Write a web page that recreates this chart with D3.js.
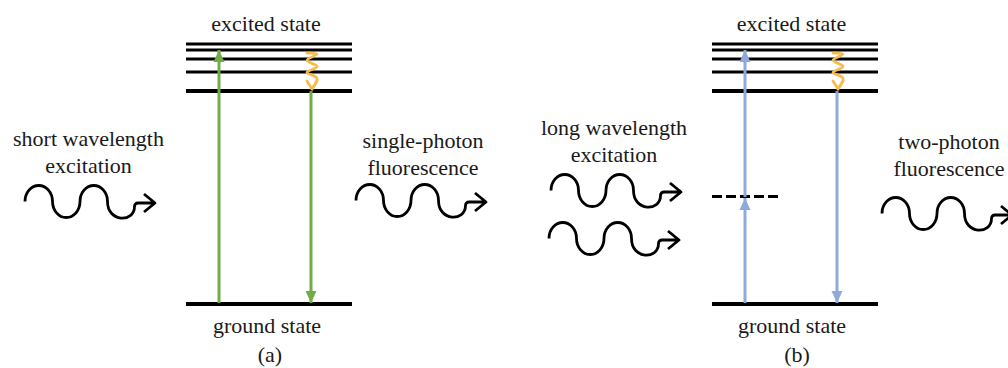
<!DOCTYPE html>
<html><head><meta charset="utf-8">
<script src="https://cdn.jsdelivr.net/npm/d3@7/dist/d3.min.js"></script>
</head><body style="margin:0">
<svg id="chart" width="1008" height="368"></svg>
<script>
// ---- data (energies in arbitrary units, 0 = ground, 1 = top excited level) ----
const panels = ["(a)", "(b)"];
const excitedLevels = [1.0, 0.977, 0.942, 0.892, 0.819];
const groundLevel = [0];
const virtualLevel = [0.408];
const stateLabels = ["excited state", "ground state"];
const photonLabels = [
  ["short wavelength", "excitation"],
  ["single-photon", "fluorescence"],
  ["long wavelength", "excitation"],
  ["two-photon", "fluorescence"]
];
// transitions: [panel, from energy, to energy, kind]
const transitions = [
  ["(a)", 0, 0.977, "abs"],
  ["(a)", 0.819, 0, "emit"],
  ["(b)", 0, 0.408, "abs"],
  ["(b)", 0.408, 0.977, "abs"],
  ["(b)", 0.819, 0, "emit"]
];
// relaxation squiggles: [panel, from energy, to energy]
const relaxations = [
  ["(a)", 0.965, 0.827],
  ["(b)", 0.965, 0.827]
];
const fontNames = ["Liberation Serif"];

// ---- layout ----
const svg = d3.select("#chart");
svg.style("display", "block").style("background", "#fff");
const y = d3.scaleLinear().domain([0, 1]).range([304, 44]);
const panelX = d3.scaleOrdinal().domain(panels).range([186, 712]);
const panelW = 166;
const absX = 33, emitX = 125;
const colors = { "(a)": "#70ad47", "(b)": "#8eaadb" };
const squiggleColor = "#f5bd4f";

const defs = svg.append("defs");
panels.forEach((p, i) => {
  defs.append("marker")
    .attr("id", "head" + i)
    .attr("viewBox", "0 0 12 12")
    .attr("refX", 12).attr("refY", 6)
    .attr("markerWidth", 12).attr("markerHeight", 12)
    .attr("markerUnits", "userSpaceOnUse")
    .attr("orient", "auto")
    .append("path")
    .attr("d", "M0,0.5 L12,6 L0,11.5 Z")
    .attr("fill", colors[p]);
});

const labels = []; // [text, x, baseline]

panels.forEach((p, i) => {
  const g = svg.append("g");
  const x0 = panelX(p);
  g.selectAll("line.ex").data(excitedLevels).join("line")
    .attr("x1", x0).attr("x2", x0 + panelW)
    .attr("y1", d => y(d)).attr("y2", d => y(d))
    .attr("stroke", "#000")
    .attr("stroke-width", (d, j) => j === excitedLevels.length - 1 ? 4 : 3);
  g.selectAll("line.gr").data(groundLevel).join("line")
    .attr("x1", x0).attr("x2", x0 + panelW)
    .attr("y1", d => y(d)).attr("y2", d => y(d))
    .attr("stroke", "#000").attr("stroke-width", 4);
  if (p === "(b)") {
    g.selectAll("line.vr").data(virtualLevel).join("line")
      .attr("x1", x0).attr("x2", x0 + 67)
      .attr("y1", d => y(d) - 1.5).attr("y2", d => y(d) - 1.5)
      .attr("stroke", "#000").attr("stroke-width", 3)
      .attr("stroke-dasharray", "10,4");
  }
  g.selectAll("line.tr").data(transitions.filter(t => t[0] === p)).join("line")
    .attr("x1", d => x0 + (d[3] === "abs" ? absX : emitX))
    .attr("x2", d => x0 + (d[3] === "abs" ? absX : emitX))
    .attr("y1", d => y(d[1]) + (d[1] > d[2] ? 0 : -1))
    .attr("y2", d => y(d[2]) + (d[1] > d[2] ? -1 : 0))
    .attr("stroke", colors[p]).attr("stroke-width", 3)
    .attr("marker-end", "url(#head" + i + ")");
  relaxations.filter(r => r[0] === p).forEach(r => {
    const top = y(r[1]), bot = y(r[2]);
    const h = bot - top;
    const sx = x0 + emitX + 1;
    const pts = [[-5, 0], [5, 1], [-5, 0.2 * h], [5, 0.37 * h], [-5, 0.54 * h], [5, 0.7 * h], [0, h]];
    g.append("path")
      .attr("d", d3.line().curve(d3.curveCatmullRom)(pts.map(q => [sx + q[0], top + q[1]])))
      .attr("fill", "none").attr("stroke", squiggleColor).attr("stroke-width", 2.8)
      .attr("stroke-linecap", "round");
    g.append("path")
      .attr("d", `M${sx - 5},${top + h - 8} L${sx},${top + h} L${sx + 5},${top + h - 8}`)
      .attr("fill", "none").attr("stroke", squiggleColor).attr("stroke-width", 2.8)
      .attr("stroke-linecap", "round").attr("stroke-linejoin", "round");
  });
  const cx = x0 + panelW / 2;
  labels.push([stateLabels[0], cx - 3 + (i ? -0.5 : 0), 31]);
  labels.push([stateLabels[1], cx - 2 + (i ? -1 : 0), 333]);
  labels.push([p, cx + 1 + (i ? 1 : 0), 362]);
});

// ---- photons ----
const photonX = [25, 356, 551, 549, 882];
const photonY = [201.5, 200.5, 190.5, 238.5, 213.5];
const wavePath = "M0,0 A13.75,16 0 0 1 27.5,0 A13.75,16 0 0 0 55,0 A13.75,16 0 0 1 82.5,0 " +
  "C82.5,21.3 109.5,21.3 109.5,5 Q109.5,1.5 113,1.5 L130,1.5 M119,-7.5 L130,1.5 L119,10.5";
svg.selectAll("path.wave").data(photonX).join("path")
  .attr("class", "wave")
  .attr("transform", (d, i) => `translate(${d},${photonY[i]})`)
  .attr("d", wavePath)
  .attr("fill", "none").attr("stroke", "#000").attr("stroke-width", 2.8)
  .attr("stroke-linejoin", "round");

const labelCX = [88.5, 423, 614, 949];
const labelBase = [146, 148, 135, 149];
photonLabels.forEach((lines, i) => {
  lines.forEach((t, j) => labels.push([t, labelCX[i], labelBase[i] + j * 27]));
});

svg.selectAll("text.lbl").data(labels).join("text")
  .attr("class", "lbl")
  .attr("x", d => d[1]).attr("y", d => d[2])
  .attr("text-anchor", "middle")
  .style("font-family", d => `"${fontNames[0]}"`)
  .style("font-size", "22px")
  .style("fill", "#1a1a1a")
  .text(d => d[0]);
</script>
</body>
</html>
